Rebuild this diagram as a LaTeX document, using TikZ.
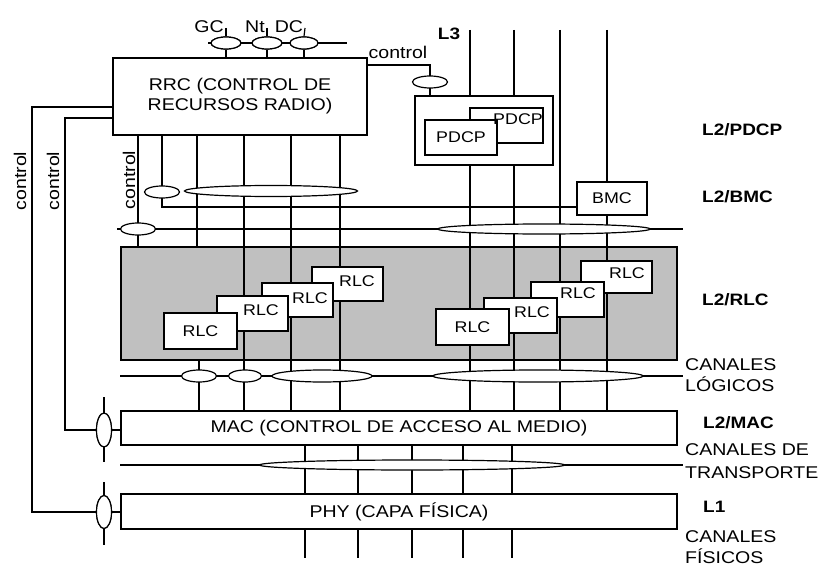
\documentclass[tikz,border=0pt]{standalone}
\usepackage{fontspec}
\setmainfont[FakeStretch=1.15]{Liberation Sans}
\usetikzlibrary{shapes.geometric}
\definecolor{greybox}{HTML}{C0C0C0}
\begin{document}
\begin{tikzpicture}[x=1pt,y=-1pt,
  ln/.style={line width=1.2pt},
  boxst/.style={draw,line width=1.5pt,fill=white,inner sep=0pt},
  ell/.style={draw,ellipse,line width=1.2pt,fill=white,inner sep=0pt},
  txt/.style={font=\fontsize{17}{20}\selectfont,inner sep=0pt},
  small/.style={font=\fontsize{15.5}{18}\selectfont,inner sep=0pt},
  lbl/.style={font=\fontsize{16.5}{19}\selectfont\bfseries,inner sep=0pt,anchor=west},
  chan/.style={font=\fontsize{17}{21}\selectfont,inner sep=0pt,anchor=west,align=left}]
\useasboundingbox (0,0) rectangle (822,567);

% grey RLC area
\node[draw,fill=greybox,line width=1.5pt,inner sep=0pt,minimum width=556pt,minimum height=113pt] (gray) at (399,303.5) {};

% coordinates
\coordinate (gl) at (208,43);
\coordinate (gr) at (347,43);
\coordinate (gct) at (226,28);
\coordinate (nct) at (267,28);
\coordinate (dct) at (305,28);
\coordinate (t1) at (470,30);
\coordinate (t2) at (514,30);
\coordinate (t3) at (560,30);
\coordinate (t4) at (607,30);
\coordinate (c1) at (430,65);
\coordinate (lgL) at (120,376);
\coordinate (lgR) at (683,376);
\coordinate (dmL) at (117,229);
\coordinate (dmR) at (683,229);
\coordinate (trR) at (683,465);

% boxes (declared first for anchors, drawn later on top)
\node[boxst,minimum width=254pt,minimum height=77pt] (rrc) at (240,96.5) {};
\node[boxst,minimum width=138pt,minimum height=69pt] (pdcpO) at (484,130.5) {};
\node[boxst,minimum width=70pt,minimum height=33pt,small] (bmc) at (612,198.5) {BMC};
\node[boxst,minimum width=556pt,minimum height=34pt,txt] (mac) at (399,428) {MAC (CONTROL DE ACCESO AL MEDIO)};
\node[boxst,minimum width=556pt,minimum height=35pt,txt] (phy) at (399,511.5) {PHY (CAPA FÍSICA)};

% ellipse anchors
\path (226,43) node[ell,minimum width=30pt,minimum height=12pt] (gc) {};
\path (267,43) node[ell,minimum width=30pt,minimum height=12pt] (nt) {};
\path (304,43) node[ell,minimum width=28pt,minimum height=12pt] (dc) {};

% ---------- lines ----------
\draw[ln] (gl) -- (gr);
\draw[ln] (gct) -- (gc.north);  \draw[ln] (gc.south) -- (gc.south |- rrc.north);
\draw[ln] (nct) -- (nt.north);  \draw[ln] (nt.south) -- (nt.south |- rrc.north);
\draw[ln] (dct) -- (dc.north);  \draw[ln] (dc.south) -- (dc.south |- rrc.north);

\draw[ln] (rrc.east |- c1) -- (c1) -- (c1 |- pdcpO.north);

\draw[ln] (t1) -- (t1 |- pdcpO.north);
\draw[ln] (t1 |- pdcpO.south) -- (t1 |- mac.north);
\draw[ln] (t2) -- (t2 |- pdcpO.north);
\draw[ln] (t2 |- pdcpO.south) -- (t2 |- mac.north);
\draw[ln] (t3) -- (t3 |- mac.north);
\draw[ln] (t4) -- (t4 |- bmc.north);
\draw[ln] (t4 |- bmc.south) -- (t4 |- mac.north);

\draw[ln] (138,0 |- rrc.south) -- (138,0 |- gray.north);
\draw[ln] (162,0 |- rrc.south) -- (162,207) -- (bmc.west |- 0,207);
\draw[ln] (197,0 |- rrc.south) -- (197,0 |- gray.north);
\draw[ln] (199,0 |- gray.south) -- (199,0 |- mac.north);
\draw[ln] (244,0 |- rrc.south) -- (244,0 |- mac.north);
\draw[ln] (291,0 |- rrc.south) -- (291,0 |- mac.north);
\draw[ln] (340,0 |- rrc.south) -- (340,0 |- mac.north);

\draw[ln] (dmL) -- (dmR);
\draw[ln] (lgL) -- (lgR);
\draw[ln] (mac.west |- trR) -- (trR);

\foreach \xx in {305,358,412,463,512}{
  \draw[ln] (\xx,0 |- mac.south) -- (\xx,0 |- phy.north);
  \draw[ln] (\xx,0 |- phy.south) -- (\xx,558);
}

% ellipses on the side of MAC / PHY
\node[ell,minimum width=15pt,minimum height=34pt] (vm) at (104,430) {};
\node[ell,minimum width=15pt,minimum height=33pt] (vp) at (104,512) {};
\draw[ln] (vm |- 0,397) -- (vm |- 0,462);
\draw[ln] (vp |- 0,482) -- (vp |- 0,545);
\draw[ln] (vm.east) -- (vm -| mac.west);
\draw[ln] (vp.east) -- (vp -| phy.west);
\draw[ln] (rrc.west |- 0,107) -| (32,0 |- vp) -- (vp.west);
\draw[ln] (rrc.west |- 0,118) -| (65,0 |- vm) -- (vm.west);
\node[ell,minimum width=15pt,minimum height=34pt] (vm2) at (vm) {};
\node[ell,minimum width=15pt,minimum height=33pt] (vp2) at (vp) {};

% ---------- boxes on top ----------
\node[boxst,minimum width=254pt,minimum height=77pt,txt,align=center] (rrc2) at (rrc) {RRC (CONTROL DE\\RECURSOS RADIO)};
\node[boxst,minimum width=138pt,minimum height=69pt] (pdcpO2) at (pdcpO) {};
\node[boxst,minimum width=73pt,minimum height=35pt] (pdcpB) at (506.5,125.5) {};
\node[boxst,minimum width=72pt,minimum height=35pt,small] (pdcpF) at (461,137.5) {PDCP};
\node[small] (pdcpBt) at (518,119) {PDCP};
\node[boxst,minimum width=70pt,minimum height=33pt,small] (bmc2) at (bmc) {BMC};

% RLC boxes, back to front
\node[boxst,minimum width=71pt,minimum height=34pt] (rlc4) at (347.5,284) {};
\node[small] (rlc4t) at (357,281) {RLC};
\node[boxst,minimum width=71pt,minimum height=34pt] (rlc3) at (297.5,300) {};
\node[small] (rlc3t) at (310,298) {RLC};
\node[boxst,minimum width=71pt,minimum height=35pt] (rlc2) at (252.5,313.5) {};
\node[small] (rlc2t) at (261,310) {RLC};
\node[boxst,minimum width=73pt,minimum height=36pt,small] (rlc1) at (200.5,331) {RLC};

\node[boxst,minimum width=71pt,minimum height=32pt] (rlc8) at (616.5,277) {};
\node[small] (rlc8t) at (627,273) {RLC};
\node[boxst,minimum width=73pt,minimum height=35pt] (rlc7) at (567.5,299.5) {};
\node[small] (rlc7t) at (578,293) {RLC};
\node[boxst,minimum width=73pt,minimum height=35pt] (rlc6) at (520.5,315.5) {};
\node[small] (rlc6t) at (532,312) {RLC};
\node[boxst,minimum width=73pt,minimum height=36pt,small] (rlc5) at (472.5,327) {RLC};

% ---------- ellipses on top ----------
\node[ell,minimum width=30pt,minimum height=12pt] (gc2) at (gc) {};
\node[ell,minimum width=30pt,minimum height=12pt] (nt2) at (nt) {};
\node[ell,minimum width=28pt,minimum height=12pt] (dc2) at (dc) {};
\node[ell,minimum width=35pt,minimum height=12pt] (ctl) at (c1 |- 0,82) {};
\node[ell,minimum width=35pt,minimum height=12pt] (e1) at (162,192) {};
\node[ell,minimum width=173pt,minimum height=11pt] (bigE) at (271,191) {};
\node[ell,minimum width=35pt,minimum height=12pt] (e2) at (138,229) {};
\node[ell,minimum width=212pt,minimum height=10pt] (longE) at (544,229) {};
\node[ell,minimum width=35pt,minimum height=12pt] (l1) at (199,376) {};
\node[ell,minimum width=33pt,minimum height=12pt] (l2) at (245,376) {};
\node[ell,minimum width=100pt,minimum height=12pt] (l3) at (322,376) {};
\node[ell,minimum width=210pt,minimum height=12pt] (l4) at (538,376) {};
\node[ell,minimum width=305pt,minimum height=10pt] (tr) at (412,465) {};

% ---------- labels ----------
\node[txt] (gcT) at (209,27) {GC};
\node[txt] (ntT) at (255,27) {Nt};
\node[txt] (dcT) at (289,27) {DC};
\node[txt] (ctrlT) at (398,52) {control};
\node[txt,rotate=90] (ctrlA) at (20,181) {control};
\node[txt,rotate=90] (ctrlB) at (53,181) {control};
\node[txt,rotate=90] (ctrlC) at (129,180) {control};

\node[font=\fontsize{16.5}{19}\selectfont\bfseries,inner sep=0pt] (L3) at (449,34) {L3};
\node[lbl] (lpdcp) at (702,130) {L2/PDCP};
\node[lbl] (lbmc) at (702,197) {L2/BMC};
\node[lbl] (lrlc) at (702,300) {L2/RLC};
\node[lbl] (lmac) at (703,423) {L2/MAC};
\node[lbl] (lone) at (703,507) {L1};
\node[chan] (clog) at (685,375) {CANALES\\LÓGICOS};
\node[chan,font=\fontsize{17}{23}\selectfont] (ctra) at (685,461.5) {CANALES DE\\TRANSPORTE};
\node[chan] (cfis) at (685,547) {CANALES\\FÍSICOS};
\end{tikzpicture}
\end{document}
